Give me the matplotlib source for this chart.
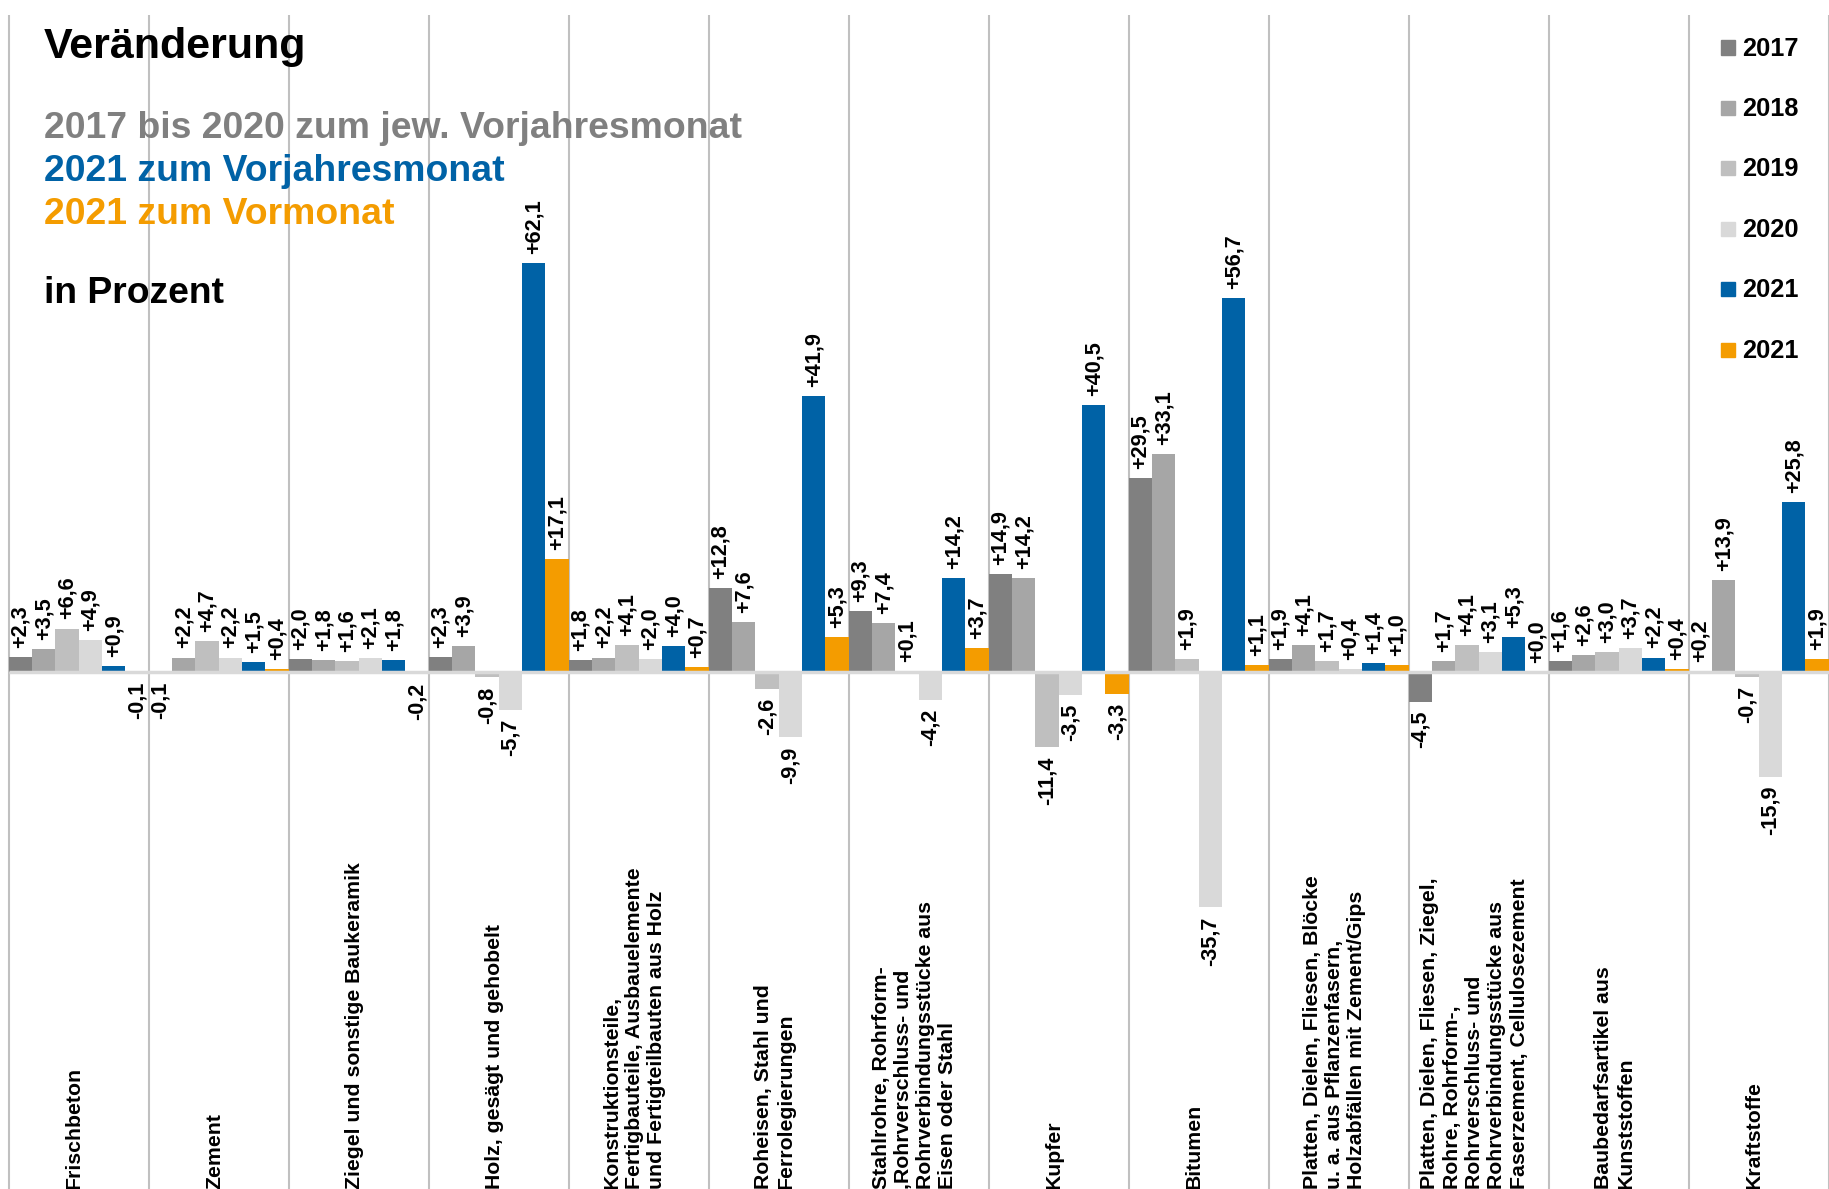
import numpy as np
import matplotlib
matplotlib.use("Agg")
import matplotlib.pyplot as plt
from matplotlib.patches import Rectangle

plt.rcParams['font.family'] = ['Liberation Sans', 'DejaVu Sans']

# =============================================================================
# DATEN
# =============================================================================

kategorien = [
    "Frischbeton",
    "Zement",
    "Ziegel und sonstige Baukeramik",
    "Holz, gesägt und gehobelt",
    "Konstruktionsteile,\nFertigbauteile, Ausbauelemente\nund Fertigteilbauten aus Holz",
    "Roheisen, Stahl und\nFerrolegierungen",
    "Stahlrohre, Rohrform-\n,Rohrverschluss- und\nRohrverbindungsstücke aus\nEisen oder Stahl",
    "Kupfer",
    "Bitumen",
    "Platten, Dielen, Fliesen, Blöcke\nu. a. aus Pflanzenfasern,\nHolzabfällen mit Zement/Gips",
    "Platten, Dielen, Fliesen, Ziegel,\nRohre, Rohrform-,\nRohrverschluss- und\nRohrverbindungsstücke aus\nFaserzement, Cellulosezement",
    "Baubedarfsartikel aus\nKunststoffen",
    "Kraftstoffe",
]

v2017 = [2.3, -0.1, 2.0, 2.3, 1.8, 12.8, 9.3, 14.9, 29.5, 1.9, -4.5, 1.6, 0.2]
v2018 = [3.5, 2.2, 1.8, 3.9, 2.2, 7.6, 7.4, 14.2, 33.1, 4.1, 1.7, 2.6, 13.9]
v2019 = [6.6, 4.7, 1.6, -0.8, 4.1, -2.6, 0.1, -11.4, 1.9, 1.7, 4.1, 3.0, -0.7]
v2020 = [4.9, 2.2, 2.1, -5.7, 2.0, -9.9, -4.2, -3.5, -35.7, 0.4, 3.1, 3.7, -15.9]
v2021_vj = [0.9, 1.5, 1.8, 62.1, 4.0, 41.9, 14.2, 40.5, 56.7, 1.4, 5.3, 2.2, 25.8]
v2021_vm = [-0.1, 0.4, -0.2, 17.1, 0.7, 5.3, 3.7, -3.3, 1.1, 1.0, 0.0, 0.4, 1.9]

serien = [v2017, v2018, v2019, v2020, v2021_vj, v2021_vm]
jahre = ["2017", "2018", "2019", "2020", "2021", "2021"]
farben = ["#808080", "#a6a6a6", "#bfbfbf", "#d9d9d9", "#0062a6", "#f49c00"]

# =============================================================================
# LAYOUT (Pixel)
# =============================================================================

W, H, DPI = 1829, 1189, 100
X0 = 8.7        # erste Trennlinie
SLOT = 140.0    # Breite einer Kategorie
Y0 = 672.0      # Nulllinie
PX = 6.59       # Pixel je Prozentpunkt

fig = plt.figure(figsize=(W / DPI, H / DPI), dpi=DPI)
ax = fig.add_axes([0, 0, 1, 1])
ax.set_xlim(-X0 / SLOT, (W - X0) / SLOT)
y_unten = -(H - Y0) / PX
ax.set_ylim(y_unten, Y0 / PX)
ax.axis('off')

n = len(kategorien)
x = np.arange(n)
bw = 1 / len(serien)

# Trennlinien und Nulllinie
ax.vlines(np.arange(n + 1), y_unten, (Y0 - 15) / PX, colors="#c0c0c0", lw=1.5, zorder=1)
ax.hlines(0, 0, n, colors="#d9d9d9", lw=2.5, zorder=3)

# Balken + Werte
for j, (werte, farbe) in enumerate(zip(serien, farben)):
    xs = x + (j + 0.5) * bw
    ax.bar(xs, werte, width=bw, color=farbe, linewidth=0, zorder=2)
    for xi, v in zip(xs, werte):
        txt = f"{v:+.1f}".replace(".", ",")
        pos = v >= 0
        ax.annotate(txt, (xi, v), xytext=(0, 6.5 if pos else -6.5),
                    textcoords="offset points", rotation=90,
                    ha="center", va="bottom" if pos else "top",
                    fontsize=15.6, fontweight="bold", zorder=4)

# Kategorienbeschriftung
for i, lab in enumerate(kategorien):
    ax.text(i + 0.47, y_unten, lab, rotation=90, ha="center", va="bottom",
            multialignment="left", fontsize=15.3, fontweight="bold",
            linespacing=1.22)

# Titel
fig.text(44 / W, 1 - 58 / H, "Veränderung", fontsize=31, fontweight="bold", va="baseline")
fig.text(44 / W, 1 - 138 / H, "2017 bis 2020 zum jew. Vorjahresmonat", fontsize=26.9,
         fontweight="bold", color="#808080", va="baseline")
fig.text(44 / W, 1 - 181 / H, "2021 zum Vorjahresmonat", fontsize=26.9,
         fontweight="bold", color="#0062a6", va="baseline")
fig.text(44 / W, 1 - 224 / H, "2021 zum Vormonat", fontsize=26.9,
         fontweight="bold", color="#f49c00", va="baseline")
fig.text(44 / W, 1 - 303 / H, "in Prozent", fontsize=26.8, fontweight="bold", va="baseline")

# Legende
for k, (lab, farbe) in enumerate(zip(jahre, farben)):
    yc = 47.5 + 60.4 * k
    fig.patches.append(Rectangle((1721 / W, 1 - (yc + 7) / H), 14 / W, 14 / H,
                                 transform=fig.transFigure, color=farbe))
    fig.text(1742 / W, 1 - (yc + 8) / H, lab, fontsize=18.3, fontweight="bold", va="baseline")

fig.savefig("out.png", dpi=DPI)
